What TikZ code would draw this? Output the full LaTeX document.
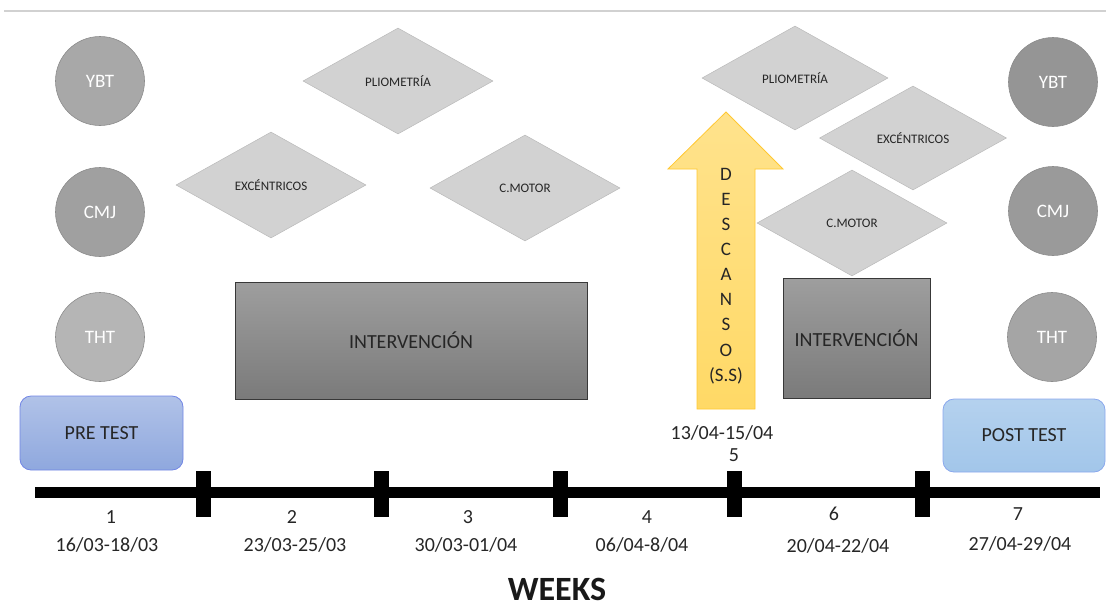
\documentclass[tikz,border=0pt]{standalone}
\usepackage{fontspec}
\setmainfont{Carlito}
\usetikzlibrary{shapes.geometric}

\definecolor{pregris}{HTML}{A8A8A8}
\definecolor{postgris}{HTML}{959595}
\definecolor{rombo}{HTML}{D2D2D2}
\definecolor{amarillo}{HTML}{FFD966}
\definecolor{amarilloborde}{HTML}{FFC832}
\definecolor{azulpre}{HTML}{8FA8DE}
\definecolor{azulpost}{HTML}{A2C6EA}

\begin{document}
\begin{tikzpicture}[x=1pt,y=-1pt,
		prueba/.style={circle, minimum size=89pt, inner sep=0pt, draw=black!45, line width=0.6pt, text=white, font=\fontsize{19}{19}\selectfont},
		ejercicio/.style={diamond, minimum width=190pt, minimum height=106pt, inner sep=0pt, fill=rombo, draw=black!27, line width=0.5pt, text=black!85, font=\fontsize{13}{13}\selectfont},
		interv/.style={rectangle, inner sep=0pt, top color=black!38, bottom color=black!52, draw=black!78, line width=1pt, text=black!85, font=\fontsize{20}{20}\selectfont},
		testbox/.style={rectangle, rounded corners=11pt, inner sep=0pt, line width=0.8pt, text=black!85, font=\fontsize{20}{20}\selectfont},
		semana/.style={text=black!85, font=\fontsize{20}{20}\selectfont}]
			%%%%% START %%%%%
			
			\useasboundingbox (0, 0) rectangle (1106, 611);
			\draw[black!18, line width=2pt] (4, 11) -- (1106, 11);
			
			% tests antes
			\node[prueba, fill=pregris] (ybtpre) at (100, 81) {YBT};
			\node[prueba, fill=pregris!95!black] (cmjpre) at (100, 212) {CMJ};
			\node[prueba, fill=pregris!85!white] (thtpre) at (100, 337) {THT};
			
			% tests despues
			\node[prueba, fill=postgris] (ybtpost) at (1053, 82) {YBT};
			\node[prueba, fill=postgris!95!white] (cmjpost) at (1053, 211) {CMJ};
			\node[prueba, fill=postgris!85!white] (thtpost) at (1052, 337) {THT};
			
			% ejercicios
			\node[ejercicio] (pliopre) at (398, 81) {PLIOMETRÍA};
			\node[ejercicio] (excpre) at (271, 185) {EXCÉNTRICOS};
			\node[ejercicio] (motorpre) at (525, 188) {C.MOTOR};
			
			\node[ejercicio, minimum width=186pt, minimum height=104pt] (pliopost) at (795, 78) {PLIOMETRÍA};
			\node[ejercicio, minimum width=187pt, minimum height=104pt] (excpost) at (913, 138) {EXCÉNTRICOS};
			\node[ejercicio] (motorpost) at (852, 223) {C.MOTOR};
			
			% intervencion
			\node[interv, minimum width=352pt, minimum height=117pt] (intpre) at (411, 340.5) {INTERVENCIÓN};
			\node[interv, minimum width=147pt, minimum height=120pt] (intpost) at (856.5, 338) {INTERVENCIÓN};
			
			% descanso
			\draw[top color=amarillo!75!white, bottom color=amarillo, draw=amarilloborde, line width=0.8pt] (697, 409) -- (697, 169) -- (668, 169) -- (726, 112) -- (783, 169) -- (755, 169) -- (755, 409) -- cycle;
			\node[align=center, text=black!85, font=\fontsize{19}{25.1}\selectfont] (descanso) at (726, 276) {D\\E\\S\\C\\A\\N\\S\\O\\(S.S)};
			
			% pre y post test
			\node[testbox, minimum width=163pt, minimum height=74pt, top color=azulpre!70!white, bottom color=azulpre, draw=azulpre!80!blue] (pre) at (101.5, 433) {PRE TEST};
			\node[testbox, minimum width=162pt, minimum height=73pt, top color=azulpost!80!white, bottom color=azulpost, draw=azulpost!85!blue] (post) at (1024, 435.5) {POST TEST};
			
			% eje de semanas
			\coordinate (inicio) at (35, 492.5);
			\coordinate (fin) at (1100, 492.5);
			\draw[line width=11pt] (inicio) -- (fin);
			\foreach \x in {203, 381, 560, 734, 922}
				\fill (\x-7.5, 471) rectangle (\x+7.5, 517);
			
			\node[semana] (s1) at (111, 517) {1};
			\node[semana] (f1) at (107, 545) {16/03-18/03};
			\node[semana] (s2) at (292, 517) {2};
			\node[semana] (f2) at (295, 545) {23/03-25/03};
			\node[semana] (s3) at (468, 517) {3};
			\node[semana] (f3) at (466, 545) {30/03-01/04};
			\node[semana] (s4) at (647, 517) {4};
			\node[semana] (f4) at (642, 545) {06/04-8/04};
			\node[semana] (s5) at (734, 455) {5};
			\node[semana] (f5) at (722, 433) {13/04-15/04};
			\node[semana] (s6) at (834, 514) {6};
			\node[semana] (f6) at (838, 546) {20/04-22/04};
			\node[semana] (s7) at (1018, 514) {7};
			\node[semana] (f7) at (1020, 544) {27/04-29/04};
			
			\node[text=black!90, font=\bfseries\fontsize{34}{34}\selectfont] (weeks) at (557, 589) {WEEKS};
			
			%%%%% END %%%%%
		\end{tikzpicture}
\end{document}
